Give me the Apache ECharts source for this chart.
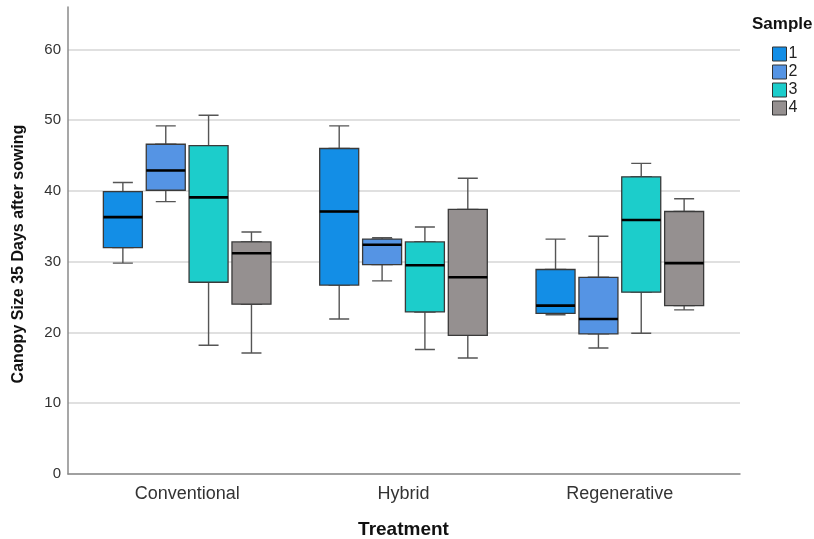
<!DOCTYPE html>
<html>
<head>
<meta charset="utf-8">
<script src="https://cdn.jsdelivr.net/npm/echarts@6/dist/echarts.min.js"></script>
<style>html,body{margin:0;padding:0;background:#fff;}#c{width:814px;height:539px;}</style>
</head>
<body>
<div id="c"></div>
<script>
const categories = ['Conventional', 'Hybrid', 'Regenerative'];
const sampleNames = ['1', '2', '3', '4'];
// [min, Q1, median, Q3, max] per treatment
const sample1 = [[29.8, 32.0, 36.3, 39.9, 41.2], [21.9, 26.7, 37.1, 46.0, 49.2], [22.5, 22.7, 23.8, 28.9, 33.2]];
const sample2 = [[38.5, 40.1, 42.9, 46.6, 49.2], [27.3, 29.6, 32.4, 33.2, 33.4], [17.8, 19.8, 21.9, 27.8, 33.6]];
const sample3 = [[18.2, 27.1, 39.1, 46.4, 50.7], [17.6, 22.9, 29.5, 32.8, 34.9], [19.9, 25.7, 35.9, 42.0, 43.9]];
const sample4 = [[17.1, 24.0, 31.2, 32.8, 34.2], [16.4, 19.6, 27.8, 37.4, 41.8], [23.2, 23.8, 29.8, 37.1, 38.9]];
const yTicks = [0, 10, 20, 30, 40, 50, 60];

const samples = [sample1, sample2, sample3, sample4];
const colors = ['#138ee6', '#5594e4', '#1ccdcb', '#959090'];
const offsets = [-64.3, -21.4, 21.4, 64.3];

const FONT = 'Liberation Sans, Arial, sans-serif';
const TOP = 7, BOTTOM = 65, YMAX = 66;

const grids = [
  {left: 68, right: 74, top: TOP, bottom: BOTTOM, outerBoundsMode: 'none'},
  {left: 79, right: 86, top: TOP, bottom: BOTTOM, outerBoundsMode: 'none'}
];
const xAxes = [
  {gridIndex: 0, type: 'category', data: categories, axisLine: {show: true, lineStyle: {color: '#8a8a8a', width: 1.5}},
   axisTick: {show: false}, axisLabel: {show: false}},
  {gridIndex: 1, type: 'category', data: categories, axisLine: {show: false}, axisTick: {show: false},
   axisLabel: {show: true, margin: 11, fontFamily: FONT, fontSize: 18, color: '#333'},
   name: 'Treatment', nameLocation: 'middle', nameGap: 46,
   nameTextStyle: {fontFamily: FONT, fontSize: 19, fontWeight: 'bold', color: '#111'}}
];
const yAxes = [
  {gridIndex: 0, type: 'value', min: 0, max: YMAX, interval: 10,
   axisLine: {show: true, lineStyle: {color: '#8a8a8a', width: 1.5}}, axisTick: {show: false},
   axisLabel: {margin: 7, fontFamily: FONT, fontSize: 15, color: '#333', showMaxLabel: false,
     formatter: v => (yTicks.indexOf(v) >= 0 ? String(v) : '')},
   splitLine: {show: true, showMaxLine: false, lineStyle: {color: '#d6d6d6', width: 1.5}}},
  {gridIndex: 1, type: 'value', min: 0, max: YMAX, show: false, splitLine: {show: false}}
];
const series = [];

function addGrid(off) {
  const gi = grids.length;
  grids.push({left: 79 + off, right: 86 - off, top: TOP, bottom: BOTTOM, outerBoundsMode: 'none'});
  xAxes.push({gridIndex: gi, type: 'category', data: categories, show: false});
  yAxes.push({gridIndex: gi, type: 'value', min: 0, max: YMAX, show: false, splitLine: {show: false}});
  return gi;
}

samples.forEach((data, i) => {
  // whiskers with narrow caps
  let gi = addGrid(offsets[i]);
  series.push({
    name: 'whisker' + sampleNames[i], type: 'boxplot', xAxisIndex: gi, yAxisIndex: gi,
    boxWidth: [20, 20], silent: true, z: 2,
    itemStyle: {color: 'rgba(0,0,0,0)', borderColor: '#555', borderWidth: 1.4},
    emphasis: {disabled: true},
    data: data
  });
  // box
  gi = addGrid(offsets[i]);
  series.push({
    name: sampleNames[i], type: 'boxplot', xAxisIndex: gi, yAxisIndex: gi,
    boxWidth: [39, 39], silent: true, z: 3,
    itemStyle: {color: colors[i], borderColor: '#3a3a3a', borderWidth: 1.3},
    emphasis: {disabled: true},
    data: data.map(d => [d[1], d[1], d[2], d[3], d[3]])
  });
  // median
  gi = addGrid(offsets[i]);
  series.push({
    name: 'median' + sampleNames[i], type: 'boxplot', xAxisIndex: gi, yAxisIndex: gi,
    boxWidth: [39, 39], silent: true, z: 4,
    itemStyle: {color: 'rgba(0,0,0,0)', borderColor: '#000', borderWidth: 2.6},
    emphasis: {disabled: true},
    data: data.map(d => [d[2], d[2], d[2], d[2], d[2]])
  });
});

const chart = echarts.init(document.getElementById('c'), null, {renderer: 'canvas'});
chart.setOption({
  animation: false,
  backgroundColor: '#fff',
  title: {text: 'Sample', left: 747, top: 11,
    textStyle: {fontFamily: FONT, fontSize: 17, fontWeight: 'bold', color: '#111'}},
  legend: {
    orient: 'vertical', left: 767, top: 41, itemWidth: 14, itemHeight: 14, itemGap: 2,
    icon: 'rect', selectedMode: false,
    textStyle: {fontFamily: FONT, fontSize: 16, color: '#222', padding: [0, 0, 0, -3]},
    data: sampleNames.map((n, i) => ({name: n, itemStyle: {color: colors[i], borderColor: '#333', borderWidth: 1}}))
  },
  graphic: [{
    type: 'text', x: 19, y: 254, rotation: Math.PI / 2,
    style: {text: 'Canopy Size 35 Days after sowing', font: 'bold 16px Liberation Sans, Arial, sans-serif',
      fill: '#111', textAlign: 'center', textVerticalAlign: 'middle'}
  }],
  grid: grids,
  xAxis: xAxes,
  yAxis: yAxes,
  series: series
});
</script>
</body>
</html>
